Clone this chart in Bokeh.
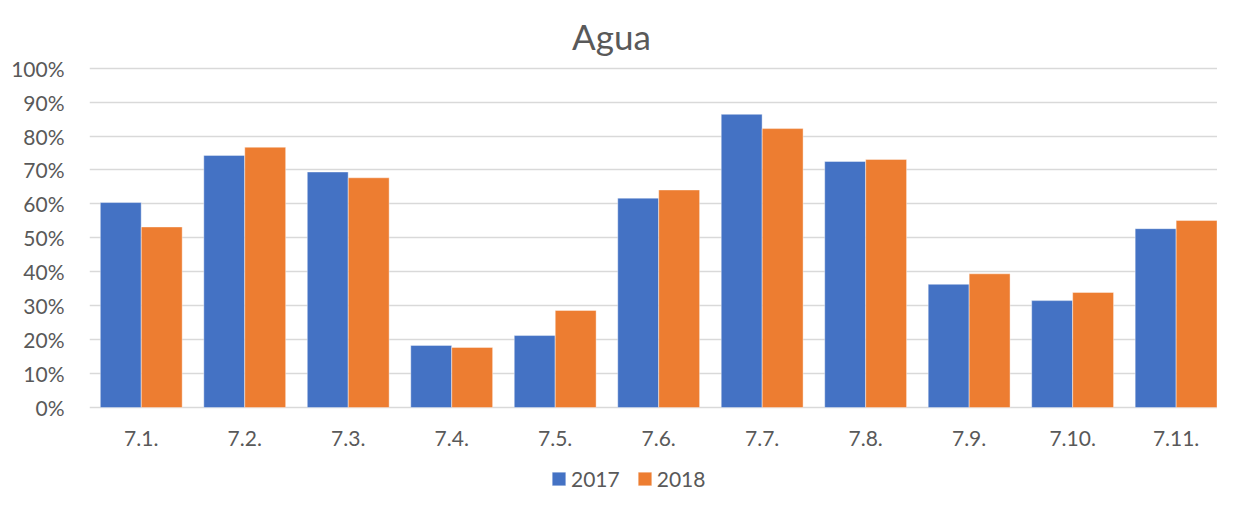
from bokeh.plotting import figure
from bokeh.models import ColumnDataSource, Range1d, FixedTicker, NumeralTickFormatter, Label
from bokeh.transform import dodge
from bokeh.embed import file_html
from bokeh.resources import INLINE

title_text = "Agua"
categories = ["7.1.", "7.2.", "7.3.", "7.4.", "7.5.", "7.6.", "7.7.", "7.8.", "7.9.", "7.10.", "7.11."]
years = ["2017", "2018"]
v2017 = [0.604, 0.743, 0.694, 0.183, 0.212, 0.617, 0.864, 0.725, 0.363, 0.315, 0.527]
v2018 = [0.532, 0.767, 0.677, 0.177, 0.286, 0.641, 0.822, 0.731, 0.394, 0.339, 0.551]
y_ticks = [0.0, 0.1, 0.2, 0.3, 0.4, 0.5, 0.6, 0.7, 0.8, 0.9, 1.0]

colors = ["#4472C4", "#ED7D31"]
text_color = "#595959"
FONT = "Lato"

xs = [i + 0.5 for i in range(len(categories))]
src = ColumnDataSource(dict(x=xs, cat=categories, y2017=v2017, y2018=v2018))

W, H = 1217, 491
p = figure(width=W, height=H, output_backend="svg", toolbar_location=None,
           x_range=Range1d(0, 10.9), y_range=Range1d(-0.2476, 1.1995),
           min_border_left=89, min_border_right=0, min_border_top=0, min_border_bottom=0)
p.outline_line_color = None
p.background_fill_color = "white"
p.border_fill_color = "white"

bw = 0.395
off = 0.198
p.vbar(x=dodge("x", -off), top="y2017", width=bw, source=src, fill_color=colors[0],
       line_color="white", line_alpha=0.5, line_width=0.8, legend_label=years[0])
p.vbar(x=dodge("x", off), top="y2018", width=bw, source=src, fill_color=colors[1],
       line_color="white", line_alpha=0.5, line_width=0.8, legend_label=years[1])

# axes
p.xaxis.fixed_location = 0
p.xaxis.ticker = FixedTicker(ticks=xs)
p.xaxis.major_label_overrides = {x: c for x, c in zip(xs, categories)}
p.yaxis.ticker = FixedTicker(ticks=y_ticks)
p.yaxis.formatter = NumeralTickFormatter(format="0%")
for ax in (p.xaxis, p.yaxis):
    ax.axis_line_color = None
    ax.major_tick_line_color = None
    ax.minor_tick_line_color = None
    ax.major_label_text_font = FONT
    ax.major_label_text_font_size = "21px"
    ax.major_label_text_color = text_color
p.xaxis.major_label_standoff = 18
p.yaxis.major_label_standoff = 19

p.xgrid.grid_line_color = None
p.ygrid.grid_line_color = "#D9D9D9"
p.ygrid.grid_line_width = 1.5

# title
p.add_layout(Label(x=5.044, y=1.0934, text=title_text, text_font=FONT, text_font_size="35px",
                   text_color=text_color, text_align="center", text_baseline="alphabetic"))

# legend
lg = p.legend[0]
lg.orientation = "horizontal"
lg.location = (461, 0)
lg.border_line_color = None
lg.background_fill_alpha = 0
lg.padding = 0
lg.margin = 0
lg.spacing = 16
lg.glyph_width = 17
lg.glyph_height = 17
lg.label_standoff = 4
lg.label_text_font = FONT
lg.label_text_font_size = "21px"
lg.label_text_color = text_color

open("out.html", "w").write(file_html(p, INLINE))
